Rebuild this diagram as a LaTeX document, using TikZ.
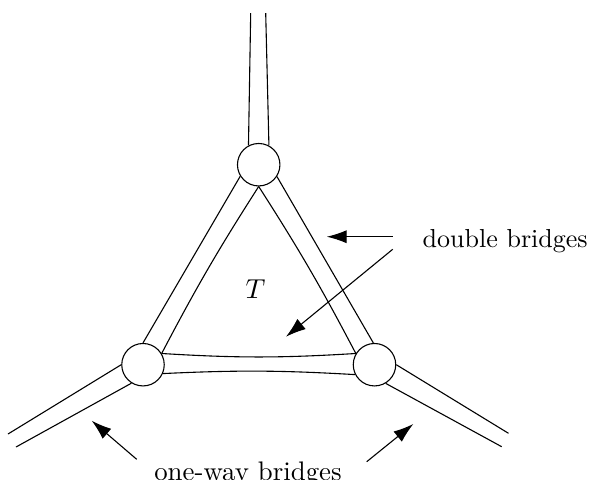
\documentclass[tikz,border=0pt]{standalone}
\usepackage{amsmath,amssymb}
\usetikzlibrary{arrows.meta}

\begin{document}
\begin{tikzpicture}[x=0.01283cm,y=-0.01283cm,
  junc/.style={draw,circle,minimum size=0.545cm,inner sep=0pt},
  pointer/.style={-{Latex[length=7.3pt,width=4.8pt]}}]
\useasboundingbox (0,0) rectangle (589,479);
\node[junc] (top) at (258.7,164.7) {};
\node[junc] (left) at (143,364.7) {};
\node[junc] (right) at (374.5,364.7) {};
\coordinate (topA) at (250.7,13);
\coordinate (topB) at (265.7,13);
\coordinate (leftA) at (8,434);
\coordinate (leftB) at (16,447);
\coordinate (rightA) at (508.5,433.3);
\coordinate (rightB) at (501.7,446.7);
% double bridges
\draw (top.212) -- (left.90);
\draw (top.270) to[bend right=2.5] (left.31);
\draw (top.327) -- (right.93);
\draw (top.270) to[bend left=2.5] (right.149);
\draw (left.31) to[bend right=3.5] (right.149);
\draw (left.-24) to[bend left=3] (right.207);
% one-way bridges
\draw (top.118) -- (topA);
\draw (top.62) -- (topB);
\draw (left.180) -- (leftA);
\draw (left.238) -- (leftB);
\draw (right.0) -- (rightA);
\draw (right.301) -- (rightB);
\node (tri) at (255.5,289.5) {$T$};
\node[anchor=base west,font=\fontsize{9.5}{11}\selectfont] (dbl) at (413,247) {double bridges};
\node[anchor=base,font=\fontsize{9.8}{11}\selectfont] (oneway) at (248,480.5) {one-way bridges};
\coordinate (dblA) at (392.7,236.7);
\coordinate (dblB) at (392.7,249.3);
\coordinate (owA) at (136.7,459.3);
\coordinate (owB) at (366.7,461.7);
\draw[pointer] (dblA) -- (326.7,236.7) coordinate (dblAtip);
\draw[pointer] (dblB) -- (286,336.7) coordinate (dblBtip);
\draw[pointer] (owA) -- (91.7,420.7) coordinate (owAtip);
\draw[pointer] (owB) -- (413.3,424) coordinate (owBtip);
\end{tikzpicture}
\end{document}
